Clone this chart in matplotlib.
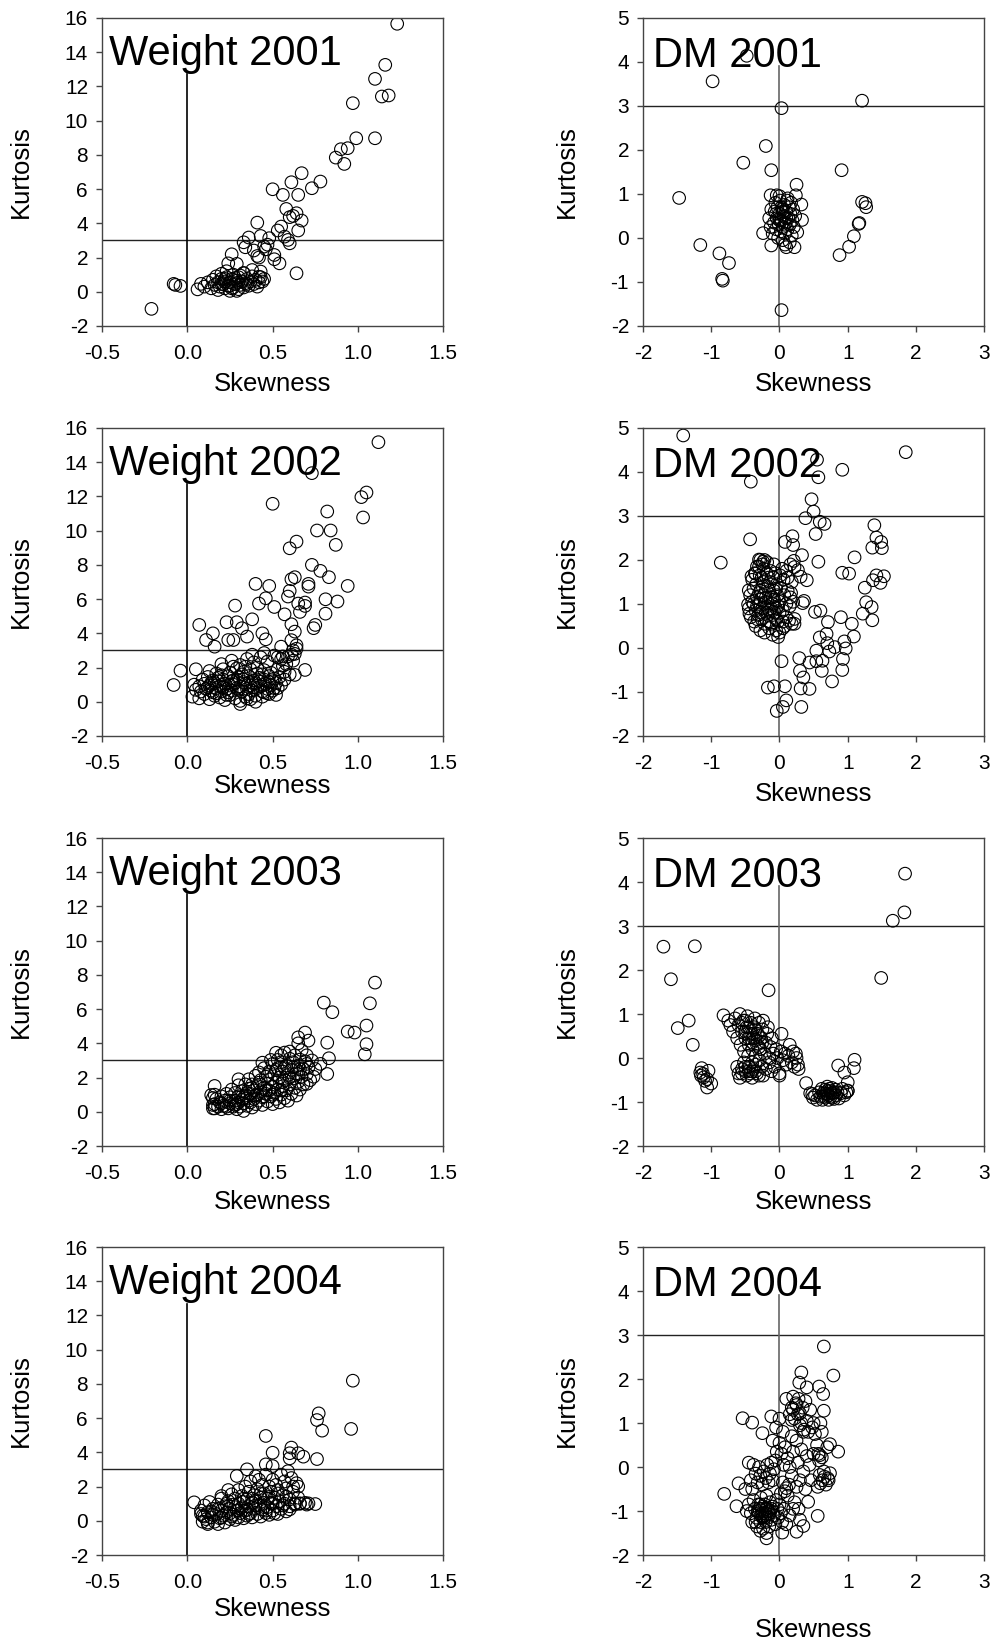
import numpy as np
import matplotlib
matplotlib.use('Agg')
import matplotlib.pyplot as plt

plt.rcParams['font.family'] = ['Liberation Sans', 'DejaVu Sans']
plt.rcParams['axes.unicode_minus'] = False

# (skewness, kurtosis) pairs, one array per panel
weight_2001 = np.array([
    (1.23, 15.66), (1.16, 13.26), (1.10, 12.44), (1.14, 11.41), (1.18, 11.47), (0.97, 11.02),
    (0.99, 8.97), (1.10, 8.97), (0.94, 8.39), (0.90, 8.33), (0.87, 7.84), (0.92, 7.47),
    (0.67, 6.93), (0.78, 6.44), (0.61, 6.40), (0.73, 6.05), (0.50, 5.99), (0.56, 5.66),
    (0.65, 5.66), (0.58, 4.84), (0.64, 4.59), (0.60, 4.36), (0.62, 4.43), (0.67, 4.16),
    (0.41, 4.04), (0.55, 3.81), (0.53, 3.58), (0.65, 3.58), (0.57, 3.22), (0.59, 3.03),
    (0.60, 2.83), (0.36, 3.17), (0.43, 3.26), (0.48, 3.13), (0.33, 2.89), (0.34, 2.60),
    (0.39, 2.41), (0.41, 2.09), (0.45, 2.64), (0.46, 2.48), (0.51, 2.15), (0.51, 1.90),
    (0.54, 1.66), (0.64, 1.08), (0.26, 2.19), (0.24, 1.66), (0.29, 1.63), (0.06, 0.14),
    (0.08, 0.46), (-0.07, 0.40), (-0.04, 0.34), (-0.08, 0.46), (-0.21, -1.00), (0.43, 1.18),
    (0.42, 0.88), (0.38, 1.27), (0.33, 1.08), (0.42, 2.00), (0.47, 2.75),
    (0.10, 0.30), (0.12, 0.55), (0.14, 0.20), (0.15, 0.70), (0.16, 0.40), (0.17, 0.90),
    (0.18, 0.10), (0.18, 0.55), (0.19, 0.30), (0.20, 0.75), (0.20, 1.05), (0.21, 0.45),
    (0.22, 0.20), (0.22, 0.60), (0.23, 0.85), (0.24, 0.35), (0.25, 0.05), (0.25, 0.55),
    (0.26, 0.75), (0.27, 0.25), (0.27, 1.00), (0.28, 0.45), (0.29, 0.65), (0.30, 0.15),
    (0.30, 0.85), (0.31, 0.40), (0.32, 0.60), (0.33, 0.25), (0.33, 1.10), (0.34, 0.50),
    (0.35, 0.75), (0.36, 0.35), (0.37, 0.60), (0.38, 0.90), (0.39, 0.45), (0.40, 0.70),
    (0.41, 0.30), (0.42, 0.55), (0.43, 0.85), (0.44, 0.60), (0.45, 0.75), (0.26, 0.20),
    (0.29, 0.05), (0.31, 0.95), (0.23, 1.20), (0.20, 0.45), (0.25, 0.35), (0.30, 0.55),
    (0.35, 0.45), (0.22, 0.75), (0.28, 0.80),
])

dm_2001 = np.array([
    (-0.48, 4.14), (-0.98, 3.56), (0.03, 2.95), (1.21, 3.12), (-0.20, 2.09), (-0.53, 1.71),
    (-0.12, 1.54), (0.91, 1.54), (-1.47, 0.91), (0.25, 1.21), (0.24, 0.97), (0.32, 0.76),
    (0.33, 0.41), (0.26, 0.13), (0.22, -0.21), (0.10, -0.21), (-0.12, -0.17), (-0.24, 0.11),
    (-0.13, 0.97), (-0.04, 0.97), (-1.16, -0.16), (-0.88, -0.35), (-0.74, -0.57),
    (-0.84, -0.93), (-0.83, -0.97), (0.03, -1.64), (0.88, -0.39), (1.02, -0.20), (1.09, 0.04),
    (1.16, 0.32), (1.17, 0.34), (1.21, 0.82), (1.26, 0.79), (1.27, 0.70),
    (-0.10, 0.10), (-0.08, 0.35), (-0.07, 0.60), (-0.06, 0.80), (-0.05, 0.20), (-0.04, 0.45),
    (-0.03, 0.70), (-0.02, 0.00), (-0.01, 0.30), (0.00, 0.55), (0.01, 0.85), (0.02, 0.15),
    (0.03, 0.40), (0.04, 0.65), (0.05, -0.05), (0.05, 0.25), (0.06, 0.50), (0.07, 0.75),
    (0.08, 0.10), (0.09, 0.35), (0.10, 0.60), (0.11, 0.85), (0.12, 0.20), (0.13, 0.45),
    (0.14, 0.70), (0.15, -0.10), (0.15, 0.30), (0.16, 0.55), (0.17, 0.80), (0.18, 0.05),
    (0.19, 0.40), (0.20, 0.65), (0.21, 0.25), (-0.15, 0.45), (-0.12, 0.65), (0.23, 0.50),
    (-0.13, 0.25), (0.00, 0.95), (0.08, -0.15), (0.12, 0.90), (0.00, 0.40), (0.05, 0.60),
    (0.10, 0.45), (-0.05, 0.55), (0.08, 0.30), (0.03, 0.70),
])

weight_2002 = np.array([
    (1.12, 15.17), (0.73, 13.36), (0.50, 11.57), (1.05, 12.23), (1.02, 11.96), (1.03, 10.77),
    (0.82, 11.12), (0.76, 10.01), (0.84, 10.01), (0.87, 9.17), (0.60, 8.97), (0.64, 9.36),
    (0.73, 8.00), (0.78, 7.65), (0.83, 7.28), (0.94, 6.77), (0.71, 6.89), (0.71, 6.73),
    (0.61, 7.16), (0.63, 7.28), (0.40, 6.89), (0.48, 6.77), (0.46, 6.05), (0.42, 5.74),
    (0.51, 5.54), (0.59, 6.15), (0.60, 6.48), (0.65, 5.74), (0.69, 5.80), (0.69, 5.60),
    (0.66, 5.25), (0.81, 5.99), (0.88, 5.86), (0.81, 5.15), (0.57, 5.11), (0.28, 5.62),
    (0.75, 4.49), (0.74, 4.30), (0.23, 4.65), (0.29, 4.65), (0.38, 4.82), (0.32, 4.30),
    (0.27, 3.61), (0.07, 4.49), (0.15, 4.00), (0.11, 3.61), (0.16, 3.22), (0.24, 3.61),
    (0.44, 4.00), (0.46, 3.65), (0.35, 3.81), (0.61, 4.53), (0.63, 4.10), (0.61, 3.60),
    (0.64, 3.30), (0.55, 3.22), (-0.04, 1.82), (-0.08, 0.98), (0.05, 1.90), (0.69, 1.86),
    (0.63, 1.57), (0.40, 0.00), (0.31, -0.13), (0.64, 3.10), (0.62, 3.00),
    (0.03, 0.30), (0.07, 0.20), (0.10, 0.45), (0.13, 0.15), (0.16, 0.35), (0.19, 0.25),
    (0.22, 0.10), (0.25, 0.40), (0.28, 0.20), (0.31, 0.05), (0.34, 0.30), (0.37, 0.15),
    (0.40, 0.35), (0.44, 0.30), (0.48, 0.45), (0.52, 0.40),
    (0.05, 0.70), (0.08, 0.60), (0.11, 0.75), (0.14, 0.65), (0.17, 0.80), (0.20, 0.60),
    (0.23, 0.75), (0.26, 0.65), (0.29, 0.80), (0.32, 0.60), (0.35, 0.75), (0.38, 0.65),
    (0.41, 0.80), (0.44, 0.60), (0.47, 0.75), (0.50, 0.65), (0.53, 0.80),
    (0.04, 1.00), (0.07, 0.90), (0.10, 1.05), (0.13, 0.95), (0.16, 1.10), (0.19, 0.90),
    (0.22, 1.05), (0.25, 0.95), (0.28, 1.10), (0.31, 0.90), (0.34, 1.05), (0.37, 0.95),
    (0.40, 1.10), (0.43, 0.90), (0.46, 1.05), (0.49, 0.95), (0.52, 1.10), (0.55, 1.00),
    (0.09, 1.30), (0.12, 1.45), (0.15, 1.25), (0.18, 1.40), (0.21, 1.30), (0.24, 1.50),
    (0.27, 1.25), (0.30, 1.45), (0.33, 1.30), (0.36, 1.50), (0.39, 1.25), (0.42, 1.40),
    (0.45, 1.30), (0.48, 1.50), (0.51, 1.35), (0.54, 1.45), (0.57, 1.30),
    (0.13, 1.80), (0.17, 1.65), (0.21, 1.90), (0.25, 1.70), (0.29, 1.95), (0.33, 1.75),
    (0.37, 1.90), (0.41, 1.65), (0.45, 1.85), (0.49, 1.70), (0.53, 1.90), (0.57, 1.75),
    (0.60, 1.60),
    (0.20, 2.20), (0.26, 2.40), (0.31, 2.15), (0.35, 2.50), (0.39, 2.30), (0.43, 2.60),
    (0.47, 2.35), (0.51, 2.70), (0.55, 2.50), (0.59, 2.65), (0.63, 2.80), (0.38, 2.75),
    (0.45, 2.85), (0.58, 2.20), (0.62, 2.40), (0.53, 2.60), (0.56, 2.65), (0.61, 2.75),
    (0.12, 0.85), (0.15, 0.55), (0.18, 1.20), (0.21, 0.85), (0.24, 0.55), (0.27, 1.00),
    (0.30, 0.70), (0.33, 1.15), (0.36, 0.45), (0.39, 0.85), (0.42, 1.20), (0.45, 0.55),
    (0.48, 1.15), (0.51, 0.80), (0.14, 1.10), (0.20, 1.55), (0.26, 1.20), (0.32, 1.60),
    (0.38, 1.10), (0.44, 1.60), (0.50, 1.20), (0.23, 0.40), (0.35, 0.20), (0.47, 0.50),
    (0.17, 0.50), (0.29, 1.30), (0.41, 2.00), (0.56, 2.10), (0.34, 2.05), (0.27, 2.05),
])

dm_2002 = np.array([
    (-1.41, 4.83), (1.85, 4.45), (0.92, 4.05), (0.55, 4.28), (0.57, 3.88), (-0.42, 3.78),
    (0.47, 3.38), (0.50, 3.10), (0.38, 2.95), (0.59, 2.87), (0.66, 2.82), (0.53, 2.59),
    (-0.43, 2.47), (-0.86, 1.94), (0.08, 2.41), (0.19, 2.54), (0.20, 2.34), (0.33, 2.11),
    (0.57, 1.96), (1.39, 2.79), (1.42, 2.51), (1.49, 2.41), (1.36, 2.28), (1.50, 2.27),
    (1.10, 2.06), (0.92, 1.71), (1.02, 1.69), (1.42, 1.65), (1.37, 1.54), (1.53, 1.63),
    (1.48, 1.48), (1.25, 1.37), (1.27, 1.04), (1.35, 0.93), (1.22, 0.78), (1.36, 0.63),
    (1.06, 0.55), (1.09, 0.26), (0.90, 0.70), (0.71, 0.59), (0.60, 0.85), (0.52, 0.82),
    (0.59, 0.24), (0.69, 0.32), (0.70, 0.11), (0.54, -0.06), (0.73, -0.08), (0.81, 0.02),
    (0.95, 0.15), (0.97, -0.01), (0.93, -0.25), (0.92, -0.50), (0.77, -0.76), (0.63, -0.29),
    (0.62, -0.52), (0.54, -0.30), (0.44, -0.33), (0.29, -0.23), (0.30, -0.52), (0.35, -0.67),
    (0.31, -0.92), (0.44, -0.93), (0.32, -1.34), (0.03, -0.30), (0.08, -0.87), (-0.08, -0.87),
    (-0.17, -0.90), (0.10, -1.19), (0.05, -1.34), (-0.04, -1.43), (0.36, 1.07), (0.34, 1.02),
    (0.40, 1.54), (0.31, 1.62), (0.22, 1.84), (0.21, 1.98), (0.27, 1.77), (0.22, 0.66),
    (0.22, 0.55), (-0.45, 1.31), (-0.46, 0.99), (-0.44, 0.78), (-0.30, 2.01), (-0.24, 1.96),
    (-0.35, 1.69), (-0.41, 1.63),
    (-0.35, 0.50), (-0.28, 0.40), (-0.22, 0.35), (-0.15, 0.45), (-0.10, 0.30), (-0.05, 0.40),
    (0.00, 0.35), (0.05, 0.45), (-0.02, 0.25), (0.08, 0.50),
    (-0.42, 0.70), (-0.37, 0.60), (-0.31, 0.75), (-0.26, 0.65), (-0.20, 0.80), (-0.15, 0.60),
    (-0.10, 0.75), (-0.05, 0.65), (0.00, 0.80), (0.05, 0.60), (0.10, 0.70), (0.14, 0.62),
    (-0.45, 0.90), (-0.40, 1.05), (-0.35, 0.85), (-0.30, 1.00), (-0.25, 0.90), (-0.20, 1.05),
    (-0.15, 0.85), (-0.10, 1.00), (-0.05, 0.90), (0.00, 1.05), (0.05, 0.85), (0.10, 1.00),
    (0.15, 0.95), (-0.28, 1.10), (-0.18, 0.95), (-0.08, 1.10),
    (-0.43, 1.20), (-0.38, 1.35), (-0.33, 1.15), (-0.28, 1.30), (-0.23, 1.20), (-0.18, 1.40),
    (-0.13, 1.15), (-0.08, 1.30), (-0.03, 1.20), (0.02, 1.35), (0.07, 1.20), (0.12, 1.30),
    (0.17, 1.25),
    (-0.40, 1.55), (-0.34, 1.45), (-0.29, 1.65), (-0.24, 1.50), (-0.19, 1.70), (-0.14, 1.50),
    (-0.09, 1.60), (-0.04, 1.45), (0.01, 1.65), (0.06, 1.55), (0.12, 1.60), (0.18, 1.50),
    (-0.33, 1.85), (-0.28, 2.00), (-0.23, 1.80), (-0.18, 1.95), (-0.13, 1.75), (-0.08, 1.90),
    (0.04, 1.80), (0.10, 1.75), (0.16, 1.90), (-0.25, 1.90), (0.20, 1.05), (0.18, 0.55),
    (0.16, 1.15),
    (-0.33, 0.95), (-0.27, 0.80), (-0.22, 1.00), (-0.17, 0.75), (-0.12, 0.90), (-0.07, 0.80),
    (-0.02, 0.95), (-0.30, 1.25), (-0.25, 1.40), (-0.20, 1.15), (-0.15, 1.30), (-0.10, 1.15),
    (-0.05, 1.35), (-0.32, 0.65), (-0.22, 0.55), (-0.12, 0.55), (-0.02, 0.60), (-0.38, 1.00),
    (-0.26, 1.60), (-0.16, 1.60), (-0.06, 1.70), (-0.36, 1.70), (-0.30, 1.85), (-0.22, 2.00),
])

weight_2003 = np.array([
    (1.10, 7.55), (1.07, 6.34), (0.80, 6.38), (0.85, 5.82), (1.05, 5.04), (0.94, 4.69),
    (0.98, 4.63), (1.05, 3.95), (1.04, 3.36), (0.82, 4.04), (0.83, 3.13), (0.82, 2.21),
    (0.78, 2.80), (0.74, 2.05), (0.70, 1.63), (0.69, 4.63), (0.65, 4.35), (0.65, 4.00),
    (0.71, 4.16), (0.60, 3.52), (0.57, 3.46), (0.16, 1.51), (0.14, 0.98), (0.15, 0.40),
    (0.16, 0.20), (0.30, 1.90), (0.44, 2.87), (0.49, 3.03), (0.53, 3.03),
    (0.15, 0.20), (0.16, 0.45), (0.17, 0.75), (0.18, 0.30), (0.19, 0.55), (0.20, 0.90),
    (0.20, 0.15), (0.16, 1.00), (0.15, 0.80),
    (0.21, 0.35), (0.22, 0.65), (0.23, 1.05), (0.24, 0.20), (0.25, 0.50), (0.25, 0.85),
    (0.26, 1.30), (0.27, 0.30), (0.28, 0.65), (0.28, 1.10), (0.29, 0.15), (0.29, 0.45),
    (0.30, 0.90), (0.30, 1.55),
    (0.31, 0.30), (0.32, 0.70), (0.32, 1.20), (0.33, 0.05), (0.33, 0.50), (0.34, 0.95),
    (0.34, 1.60), (0.35, 0.35), (0.35, 0.80), (0.36, 1.35), (0.36, 1.90), (0.37, 0.55),
    (0.37, 1.05), (0.38, 0.25), (0.38, 1.60), (0.39, 0.75), (0.39, 1.25), (0.40, 2.10),
    (0.40, 0.45),
    (0.41, 1.00), (0.41, 1.50), (0.42, 0.65), (0.42, 2.30), (0.43, 1.20), (0.43, 1.85),
    (0.44, 0.40), (0.44, 0.85), (0.45, 1.40), (0.45, 2.55), (0.46, 1.05), (0.46, 2.05),
    (0.47, 0.60), (0.47, 1.65), (0.48, 1.25), (0.48, 2.35), (0.49, 0.90), (0.49, 1.90),
    (0.50, 0.45), (0.50, 1.45), (0.50, 2.80),
    (0.51, 1.10), (0.51, 2.20), (0.52, 0.75), (0.52, 1.70), (0.53, 2.55), (0.53, 1.30),
    (0.54, 0.55), (0.54, 2.00), (0.55, 1.00), (0.55, 2.90), (0.56, 1.50), (0.56, 2.35),
    (0.57, 0.80), (0.57, 1.85), (0.58, 2.70), (0.58, 1.25), (0.59, 2.15), (0.59, 0.65),
    (0.60, 1.60), (0.60, 3.10), (0.55, 3.30), (0.52, 3.45),
    (0.61, 2.45), (0.61, 1.05), (0.62, 1.95), (0.62, 2.90), (0.63, 1.40), (0.63, 3.30),
    (0.64, 2.25), (0.64, 0.95), (0.65, 2.70), (0.65, 1.75), (0.66, 3.05), (0.66, 1.30),
    (0.67, 2.05), (0.67, 3.60), (0.68, 2.50), (0.68, 1.60), (0.69, 2.95), (0.70, 2.20),
    (0.70, 3.30), (0.71, 2.60), (0.72, 1.85), (0.73, 3.00), (0.75, 2.50),
    (0.25, 0.65), (0.30, 0.55), (0.35, 1.10), (0.40, 0.95), (0.45, 0.90), (0.50, 1.00),
    (0.55, 1.25), (0.60, 2.00), (0.65, 2.20), (0.42, 1.70), (0.47, 2.15), (0.52, 2.45),
    (0.57, 2.55), (0.62, 2.60), (0.38, 1.40), (0.33, 0.80), (0.28, 0.40), (0.23, 0.30),
    (0.20, 0.50), (0.36, 0.65), (0.46, 1.25), (0.56, 1.75), (0.66, 2.50), (0.70, 2.80),
])

dm_2003 = np.array([
    (1.84, 4.19), (1.83, 3.31), (1.66, 3.12), (1.49, 1.82), (-1.70, 2.53), (-1.24, 2.54),
    (-1.59, 1.79), (-1.49, 0.68), (-1.33, 0.85), (-1.27, 0.30), (-0.16, 1.54),
    (-1.14, -0.23), (-1.16, -0.33), (-1.11, -0.44), (-1.06, -0.48), (-1.04, -0.29),
    (-1.00, -0.58), (-1.06, -0.67), (-1.15, -0.40), (-1.12, -0.36), (-1.09, -0.52),
    (-0.82, 0.97), (-0.75, 0.85), (-0.72, 0.75), (-0.68, 0.60), (-0.65, 0.90), (-0.62, 0.45),
    (-0.60, 0.75), (-0.58, 1.00), (-0.57, 0.30), (-0.55, 0.60), (-0.53, 0.85), (-0.52, 0.15),
    (-0.50, 0.45), (-0.48, 0.70), (-0.47, 0.95), (-0.46, 0.05), (-0.45, 0.30), (-0.43, 0.55),
    (-0.42, 0.80), (-0.40, -0.10), (-0.40, 0.20), (-0.38, 0.45), (-0.37, 0.70), (-0.36, 0.90),
    (-0.35, 0.05), (-0.33, 0.30), (-0.32, 0.55), (-0.30, 0.80), (-0.29, -0.05), (-0.28, 0.20),
    (-0.27, 0.45), (-0.25, 0.65), (-0.24, 0.85), (-0.22, 0.10), (-0.20, 0.35), (-0.18, 0.55),
    (-0.17, 0.70), (-0.15, 0.00), (-0.13, 0.25), (-0.11, 0.45), (-0.09, 0.10), (-0.07, -0.20),
    (-0.05, 0.20), (-0.03, 0.00), (0.00, -0.35), (0.00, -0.40), (0.02, 0.15), (0.03, 0.55),
    (0.05, -0.05), (0.08, 0.10), (0.10, -0.15), (0.13, 0.05), (0.15, 0.30), (0.18, -0.10),
    (0.20, 0.15), (0.22, -0.20), (0.25, 0.00), (0.27, -0.15), (0.28, -0.25), (0.24, 0.10),
    (-0.62, -0.20), (-0.60, -0.35), (-0.58, -0.45), (-0.55, -0.25), (-0.52, -0.10),
    (-0.50, -0.30), (-0.48, -0.40), (-0.45, -0.20), (-0.43, -0.35), (-0.40, -0.45),
    (-0.38, -0.25), (-0.35, -0.15), (-0.33, -0.35), (-0.30, -0.40), (-0.26, -0.20),
    (-0.20, -0.25), (-0.15, -0.10), (-0.12, -0.30), (-0.24, -0.40),
    (-0.50, 0.60), (-0.45, 0.70), (-0.40, 0.55), (-0.35, 0.65), (-0.30, 0.50), (-0.45, 0.45),
    (-0.40, 0.35), (-0.35, 0.40), (-0.30, 0.25), (-0.25, 0.35), (-0.55, 0.80), (-0.50, 0.85),
    (-0.45, -0.30), (-0.50, -0.20), (-0.55, -0.35), (-0.40, -0.30), (-0.35, -0.30),
    (0.39, -0.57), (0.48, -0.82), (0.49, -0.90), (0.52, -0.85), (0.55, -0.95), (0.58, -0.78),
    (0.60, -0.88), (0.62, -0.70), (0.63, -0.95), (0.65, -0.80), (0.67, -0.72), (0.68, -0.90),
    (0.70, -0.65), (0.70, -0.82), (0.72, -0.95), (0.74, -0.75), (0.75, -0.88), (0.77, -0.68),
    (0.78, -0.80), (0.80, -0.93), (0.82, -0.72), (0.83, -0.85), (0.85, -0.78), (0.87, -0.92),
    (0.90, -0.80), (0.92, -0.70), (0.95, -0.85), (0.98, -0.78), (1.00, -0.75), (0.86, -0.17),
    (0.95, -0.33), (1.00, -0.55), (1.09, -0.23), (1.10, -0.04), (1.00, -0.74), (0.45, -0.80),
    (0.70, -0.75), (0.72, -0.85), (0.75, -0.80), (0.78, -0.90), (0.80, -0.78), (0.65, -0.88),
    (0.68, -0.80), (0.73, -0.70),
])

weight_2004 = np.array([
    (0.97, 8.19), (0.77, 6.28), (0.76, 5.89), (0.79, 5.27), (0.96, 5.37), (0.46, 4.96),
    (0.50, 3.98), (0.61, 4.28), (0.60, 3.95), (0.65, 3.95), (0.68, 3.75), (0.76, 3.61),
    (0.60, 3.65), (0.35, 3.01), (0.46, 3.30), (0.29, 2.62), (0.04, 1.08), (0.75, 0.98),
    (0.71, 1.02), (0.66, 1.02), (0.63, 1.02), (0.60, 0.67), (0.65, 2.00), (0.62, 2.00),
    (0.58, 1.41), (0.09, -0.05), (0.12, -0.19), (0.18, -0.19), (0.08, 0.40), (0.24, 1.80),
    (0.20, 1.45), (0.51, 0.44),
    (0.08, 0.60), (0.09, 0.30), (0.10, 0.90), (0.11, 0.10), (0.12, 0.50), (0.13, 1.10),
    (0.14, 0.20), (0.15, 0.70), (0.16, -0.05), (0.17, 0.40), (0.18, 0.95), (0.19, 0.15),
    (0.20, 0.60), (0.20, 1.30), (0.12, -0.10), (0.10, 0.25),
    (0.21, 0.30), (0.22, 0.85), (0.22, -0.10), (0.23, 0.50), (0.24, 1.15), (0.25, 0.10),
    (0.25, 0.70), (0.26, 1.55), (0.27, 0.35), (0.27, 0.95), (0.28, 0.05), (0.28, 1.30),
    (0.29, 0.60), (0.30, 0.20), (0.30, 1.00), (0.30, 1.80),
    (0.31, 0.45), (0.32, 0.80), (0.32, 1.45), (0.33, 0.15), (0.33, 1.10), (0.34, 0.60),
    (0.34, 2.00), (0.35, 0.30), (0.35, 1.25), (0.36, 0.85), (0.36, 1.70), (0.37, 0.45),
    (0.37, 2.30), (0.38, 1.05), (0.38, 0.20), (0.39, 1.50), (0.39, 0.70), (0.40, 2.60),
    (0.40, 1.20),
    (0.41, 0.40), (0.41, 1.85), (0.42, 0.90), (0.42, 2.40), (0.43, 1.35), (0.43, 0.25),
    (0.44, 0.65), (0.44, 2.10), (0.45, 1.60), (0.45, 1.05), (0.46, 0.45), (0.46, 2.70),
    (0.47, 1.30), (0.47, 0.80), (0.48, 2.00), (0.48, 0.35), (0.49, 1.70), (0.49, 1.05),
    (0.50, 0.60), (0.50, 2.40), (0.50, 3.20),
    (0.51, 1.35), (0.52, 0.85), (0.52, 2.10), (0.53, 0.40), (0.53, 1.80), (0.54, 1.15),
    (0.55, 2.70), (0.55, 0.70), (0.56, 1.50), (0.57, 2.30), (0.57, 1.00), (0.58, 0.55),
    (0.58, 1.90), (0.59, 2.90), (0.60, 1.25), (0.60, 0.85), (0.61, 2.50), (0.62, 1.70),
    (0.63, 0.95), (0.64, 2.20), (0.65, 1.35),
    (0.15, 0.35), (0.20, 0.20), (0.25, 0.45), (0.30, 0.60), (0.35, 0.65), (0.40, 0.90),
    (0.45, 0.80), (0.50, 1.00), (0.18, 0.70), (0.23, 1.00), (0.28, 0.80), (0.33, 1.30),
    (0.38, 1.30), (0.43, 1.60), (0.48, 1.40), (0.53, 1.60), (0.14, 0.55), (0.26, 0.25),
    (0.36, 0.40), (0.46, 0.60), (0.56, 0.90), (0.66, 1.00), (0.70, 0.95), (0.69, 1.05),
])

dm_2004 = np.array([
    (-0.45, -0.85), (-0.42, -1.05), (-0.40, -1.25), (-0.38, -0.75), (-0.36, -0.95),
    (-0.34, -1.15), (-0.33, -1.35), (-0.31, -0.85), (-0.30, -1.05), (-0.28, -1.25),
    (-0.27, -0.70), (-0.26, -0.95), (-0.25, -1.15), (-0.24, -1.40), (-0.22, -0.85),
    (-0.21, -1.05), (-0.20, -1.25), (-0.19, -0.65), (-0.18, -0.95), (-0.17, -1.15),
    (-0.15, -1.35), (-0.14, -0.80), (-0.13, -1.00), (-0.12, -1.20), (-0.10, -0.90),
    (-0.08, -1.10), (-0.06, -1.30), (-0.05, -0.75), (-0.03, -0.95), (-0.02, -1.15),
    (0.00, -0.85), (0.02, -1.05), (0.04, -1.25), (0.06, -0.95), (-0.35, -1.25),
    (-0.28, -1.45), (-0.19, -1.50), (-0.19, -1.62), (0.04, -1.49), (-0.48, -1.00),
    (-0.30, -0.95), (-0.25, -1.05), (-0.20, -0.95), (-0.15, -1.05), (-0.27, -1.10),
    (-0.22, -1.15), (-0.17, -1.00), (-0.32, -1.00), (-0.12, -0.95), (-0.24, -0.90),
    (-0.20, -1.10), (-0.28, -0.85),
    (-0.38, 0.05), (-0.35, -0.15), (-0.32, -0.35), (-0.30, 0.00), (-0.28, -0.20),
    (-0.25, -0.40), (-0.23, -0.10), (-0.20, -0.25), (-0.18, 0.05), (-0.16, -0.35),
    (-0.14, -0.15), (-0.12, 0.10), (-0.10, -0.30), (-0.08, -0.05), (-0.06, 0.15),
    (-0.42, -0.30), (-0.40, -0.50),
    (0.02, -0.60), (0.05, -0.35), (0.08, -0.55), (0.10, -0.48), (0.12, -0.65), (0.14, -0.40),
    (0.06, 0.05), (0.03, 0.30), (0.00, 0.55), (-0.04, 0.35), (0.08, 0.45), (0.12, 0.20),
    (0.15, 0.00), (0.18, -0.20), (0.20, 0.35), (0.22, -0.80), (0.25, -0.45), (0.27, 0.10),
    (0.30, -0.30), (0.32, 0.40), (0.35, -0.10), (0.38, -0.50), (0.40, 0.25), (0.42, -0.79),
    (0.44, 0.05), (0.46, -0.30), (0.25, -1.47), (0.35, -1.34), (0.56, -1.11), (0.30, -1.20),
    (0.15, -1.10), (0.20, -0.95), (0.10, -1.30), (0.28, -0.95), (0.18, 0.70), (0.05, 0.80),
    (-0.10, 0.60), (0.25, 0.60), (0.35, 0.80), (0.30, 0.95), (-0.05, 0.90), (0.00, 1.10),
    (0.15, 1.20), (0.18, 1.35), (0.20, 1.30), (0.22, 1.10), (0.24, 1.45), (0.25, 1.41),
    (0.27, 1.20), (0.28, 1.55), (0.30, 1.22), (0.32, 1.00), (0.34, 1.35), (0.36, 0.85),
    (0.38, 1.50), (0.40, 1.05), (0.42, 0.80), (0.45, 1.30), (0.48, 0.90), (0.50, 1.00),
    (0.52, 0.75), (0.18, 1.07), (0.10, 1.55), (0.20, 1.60), (0.32, 2.15), (0.29, 1.92),
    (0.40, 1.81), (0.58, 1.83), (0.64, 1.66), (0.65, 1.28), (0.65, 2.74), (0.79, 2.08),
    (0.60, 1.00), (0.62, 0.80), (0.55, 0.50), (0.50, 0.30), (0.58, 0.15),
    (0.59, -0.18), (0.66, -0.22), (0.71, -0.26), (0.60, -0.37), (0.74, -0.14), (0.63, -0.30),
    (0.68, -0.40), (0.72, -0.30), (0.65, -0.10), (0.59, 0.27), (0.57, 0.30), (0.62, 0.22),
    (0.56, -0.45), (0.86, 0.35), (0.74, 0.52), (0.70, 0.45),
    (-0.54, 1.11), (-0.40, 1.01), (-0.25, 0.77), (-0.12, 1.15), (-0.81, -0.61), (-0.63, -0.89),
    (-0.60, -0.37), (-0.45, 0.10), (-0.50, -0.50),
])

titles = ['Weight 2001', 'DM 2001', 'Weight 2002', 'DM 2002',
          'Weight 2003', 'DM 2003', 'Weight 2004', 'DM 2004']
datasets = [weight_2001, dm_2001, weight_2002, dm_2002,
            weight_2003, dm_2003, weight_2004, dm_2004]

weight_xticks = [-0.5, 0.0, 0.5, 1.0, 1.5]
weight_xlabels = ['-0.5', '0.0', '0.5', '1.0', '1.5']
weight_yticks = list(range(-2, 17, 2))
dm_xticks = [-2, -1, 0, 1, 2, 3]
dm_yticks = list(range(-2, 6))

# where the "Skewness" label sits below each panel (axes fraction)
xlabel_y = [-0.149, -0.149, -0.123, -0.149, -0.143, -0.143, -0.136, -0.205]

fig = plt.figure(figsize=(9.95, 16.48), dpi=100)

lefts = [0.1025, 0.6462]
bottoms = [0.8022, 0.5534, 0.3046, 0.0564]
w, h = 0.343, 0.1869

for i, (title, data) in enumerate(zip(titles, datasets)):
    row, col = divmod(i, 2)
    ax = fig.add_axes([lefts[col], bottoms[row], w, h])
    is_dm = col == 1

    if is_dm:
        ax.set_xlim(-2, 3)
        ax.set_ylim(-2, 5)
        ax.set_xticks(dm_xticks)
        ax.set_xticklabels([str(t) for t in dm_xticks])
        ax.set_yticks(dm_yticks)
        vtop, vcol = 3.9, '#666666'
    else:
        ax.set_xlim(-0.5, 1.5)
        ax.set_ylim(-2, 16)
        ax.set_xticks(weight_xticks)
        ax.set_xticklabels(weight_xlabels)
        ax.set_yticks(weight_yticks)
        vtop, vcol = 12.7, 'black'

    ax.axhline(3, color='#222222', lw=1.0, zorder=1)
    ax.plot([0, 0], [-2, vtop], color=vcol, lw=1.2, zorder=1)

    ax.scatter(data[:, 0], data[:, 1], s=82, facecolors='none',
               edgecolors='black', linewidths=0.8, zorder=2)

    for sp in ax.spines.values():
        sp.set_color('#444444')
        sp.set_linewidth(1.0)
    ax.tick_params(direction='out', length=4, width=1, color='#444444',
                   labelsize=15, labelcolor='black')
    ax.tick_params(axis='x', pad=9)
    ax.tick_params(axis='y', pad=6)

    ax.set_xlabel('Skewness', fontsize=18.5, va='top')
    ax.xaxis.set_label_coords(0.5, xlabel_y[i])
    ax.set_ylabel('Kurtosis', fontsize=18.5, va='center')
    ax.yaxis.set_label_coords(-0.222 if is_dm else -0.2375, 0.5)

    if is_dm:
        ax.text(0.029, 0.841, title, transform=ax.transAxes, fontsize=30,
                ha='left', va='baseline')
    else:
        ax.text(0.02, 0.847, title, transform=ax.transAxes, fontsize=30,
                ha='left', va='baseline')

fig.savefig('out.png', dpi=100)
